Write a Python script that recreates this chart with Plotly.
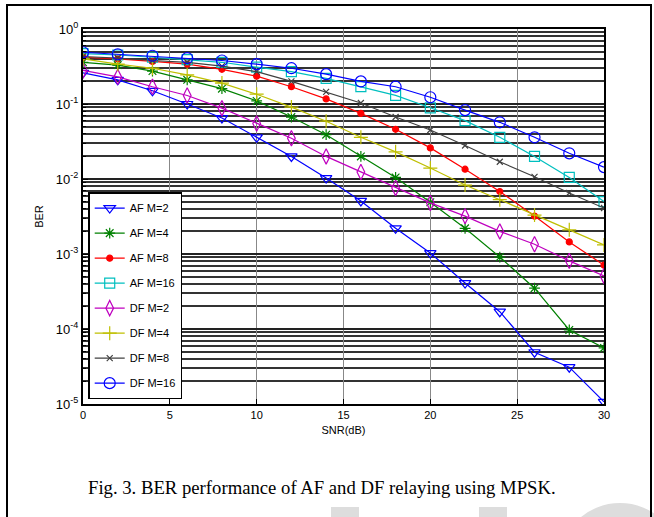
import plotly.graph_objects as go

snr = [0, 2, 4, 6, 8, 10, 12, 14, 16, 18, 20, 22, 24, 26, 28, 30]

af_m2 = [0.26, 0.21, 0.15, 0.10, 0.065, 0.036, 0.020, 0.0103, 0.0051, 0.0022, 0.00103,
         0.00041, 0.00017, 4.9e-5, 3.1e-5, 1.07e-5]
af_m4 = [0.36, 0.33, 0.275, 0.21, 0.16, 0.11, 0.067, 0.039, 0.020, 0.0105, 0.0049,
         0.0022, 0.00091, 0.00035, 9.7e-5, 5.6e-5]
af_m8 = [0.42, 0.40, 0.37, 0.34, 0.29, 0.235, 0.17, 0.117, 0.075, 0.046, 0.026,
         0.0135, 0.0068, 0.0032, 0.00145, 0.00071]
af_m16 = [0.47, 0.45, 0.42, 0.39, 0.36, 0.31, 0.27, 0.22, 0.17, 0.13, 0.089,
          0.060, 0.036, 0.020, 0.0105, 0.005]
df_m2 = [0.28, 0.23, 0.17, 0.13, 0.088, 0.055, 0.035, 0.020, 0.0124, 0.0076, 0.0048,
         0.0032, 0.0020, 0.00135, 0.00081, 0.00051]
df_m4 = [0.40, 0.34, 0.30, 0.245, 0.19, 0.135, 0.091, 0.059, 0.036, 0.023, 0.014,
         0.0083, 0.0053, 0.0033, 0.0021, 0.00132]
df_m8 = [0.43, 0.41, 0.38, 0.36, 0.32, 0.27, 0.20, 0.145, 0.103, 0.067, 0.045,
         0.028, 0.017, 0.0107, 0.0065, 0.0041]
df_m16 = [0.49, 0.46, 0.44, 0.41, 0.38, 0.34, 0.30, 0.25, 0.20, 0.17, 0.123,
          0.083, 0.057, 0.036, 0.022, 0.0144]

names = ["AF M=2", "AF M=4", "AF M=8", "AF M=16", "DF M=2", "DF M=4", "DF M=8", "DF M=16"]
series = [af_m2, af_m4, af_m8, af_m16, df_m2, df_m4, df_m8, df_m16]
colors = ["#0000ff", "#008000", "#ff0000", "#00bfbf", "#bf00bf", "#bfbf00", "#404040", "#0000ff"]
symbols = ["triangle-down-open", "asterisk-open", "circle", "square-open",
           "diamond-tall-open", "cross-thin-open", "x-thin-open", "circle-open"]
sizes = [10, 9, 6, 10, 11, 10, 6, 11]

x_ticks = [0, 5, 10, 15, 20, 25, 30]
y_ticks = [1e-5, 1e-4, 1e-3, 1e-2, 1e-1, 1]
y_ticktext = ["10<sup>-5</sup>", "10<sup>-4</sup>", "10<sup>-3</sup>", "10<sup>-2</sup>",
              "10<sup>-1</sup>", "10<sup>0</sup>"]
minor_vals = [m * 10 ** e for e in range(-5, 0) for m in range(2, 10)]

fig = go.Figure()
for i, (nm, ys) in enumerate(zip(names, series)):
    fig.add_trace(go.Scatter(
        x=snr, y=ys, name=nm, mode="lines+markers",
        line=dict(color=colors[i], width=1.2),
        marker=dict(symbol=symbols[i], size=sizes[i], color=colors[i],
                    line=dict(color=colors[i], width=1.2)),
        legendgroup=nm,
    ))

fig.update_layout(
    width=654, height=517,
    margin=dict(l=83, r=50, t=29, b=113),
    paper_bgcolor="white", plot_bgcolor="white",
    font=dict(family="Liberation Sans, Arial, sans-serif", size=11, color="black"),
    showlegend=True,
    legend=dict(x=0.01, y=0.565, xanchor="left", yanchor="top",
                bgcolor="white", bordercolor="black", borderwidth=1.5,
                font=dict(size=11), tracegroupgap=6, itemwidth=30),
    xaxis=dict(range=[0, 30], tickmode="array", tickvals=x_ticks,
               ticks="inside", ticklen=5, tickcolor="black",
               showline=True, linecolor="black", linewidth=2, mirror=True,
               showgrid=True, gridcolor="#888888", gridwidth=1, zeroline=False,
               title=dict(text="SNR(dB)", standoff=6, font=dict(size=11))),
    yaxis=dict(type="log", range=[-5, 0], tickmode="array", tickvals=y_ticks,
               ticktext=y_ticktext, ticks="inside", ticklen=5, tickcolor="black",
               showline=True, linecolor="black", linewidth=2, mirror=True,
               showgrid=True, gridcolor="#222222", gridwidth=1.5, zeroline=False,
               tickfont=dict(size=13),
               minor=dict(tickmode="array", tickvals=minor_vals, ticks="inside",
                          ticklen=3, tickcolor="black", showgrid=True,
                          gridcolor="#333333", gridwidth=1.5),
               title=dict(text="BER", standoff=10, font=dict(size=11))),
)

# figure frame
fig.add_shape(type="rect", xref="paper", yref="paper",
              x0=(7 - 83) / 521, x1=(651 - 83) / 521,
              y0=(404 - 530) / 375, y1=1 + (29 - 5) / 375,
              line=dict(color="black", width=2), fillcolor="rgba(0,0,0,0)", layer="above")

# light watermark remnants
fig.add_shape(type="rect", xref="paper", yref="paper",
              x0=(331 - 83) / 521, x1=(359 - 83) / 521,
              y0=(404 - 520) / 375, y1=(404 - 507) / 375,
              line=dict(width=0), fillcolor="#dddddd", layer="below")
fig.add_shape(type="rect", xref="paper", yref="paper",
              x0=(479 - 83) / 521, x1=(507 - 83) / 521,
              y0=(404 - 520) / 375, y1=(404 - 507) / 375,
              line=dict(width=0), fillcolor="#dddddd", layer="below")
fig.add_shape(type="circle", xref="paper", yref="paper",
              x0=(560 - 83) / 521, x1=(680 - 83) / 521,
              y0=(404 - 620) / 375, y1=(404 - 503) / 375,
              line=dict(width=0), fillcolor="#dddddd", layer="below")

fig.add_annotation(text="Fig. 3. BER performance of AF and DF relaying using MPSK.",
                   xref="paper", yref="paper", x=(86 - 83) / 521, y=(404 - 487) / 375,
                   xanchor="left", yanchor="middle", showarrow=False,
                   font=dict(family="Liberation Serif, Times New Roman, serif", size=18.7,
                             color="black"))

fig.write_html("out.html", config={"displayModeBar": False},
               post_script="document.body.style.margin='0';")
